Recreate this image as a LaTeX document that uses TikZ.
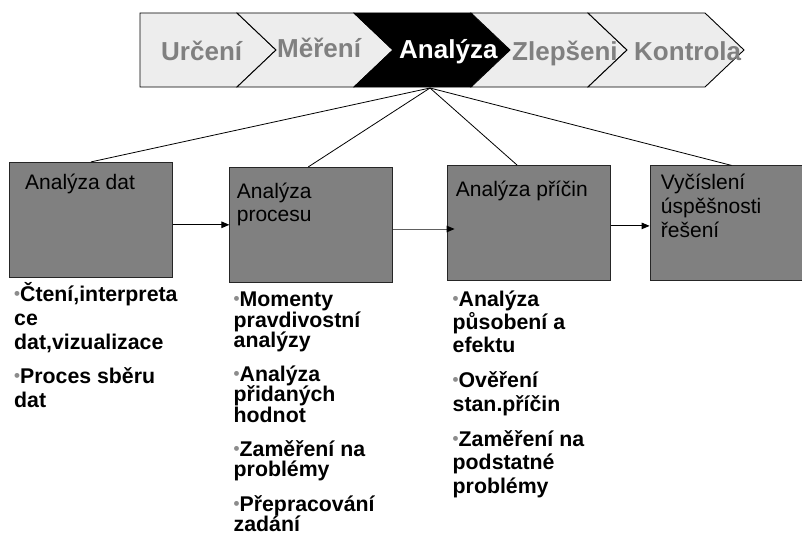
\documentclass[tikz,border=0pt]{standalone}
\usepackage{fontspec}
\setmainfont{Liberation Sans}
\usetikzlibrary{arrows.meta,calc}

\definecolor{chevfill}{HTML}{EDEDED}
\definecolor{chevtext}{HTML}{808080}
\definecolor{boxfill}{HTML}{808080}
\definecolor{bulletgray}{HTML}{8C8C8C}
\definecolor{linkgray}{HTML}{606060}

% small grey bullet in front of each item
\newcommand{\itembullet}{{\color{bulletgray}\fontsize{17}{17}\selectfont\raisebox{2pt}{\textbullet}}}
% left-aligned lines with a fixed baseline distance; baseline = first line
\newcommand{\linestack}[2]{\vtop{\baselineskip=#1\relax\lineskiplimit=-\maxdimen\lineskip=0pt\halign{##\hfil\cr#2\crcr}}}

\tikzset{
  chev/.style={draw=black, line width=0.9pt, fill=chevfill, line join=miter},
  chevactive/.style={draw=black, line width=0.9pt, fill=black},
  chevlabel/.style={anchor=base west, inner sep=0pt, text=chevtext,
    font=\bfseries\fontsize{26}{26}\selectfont},
  stagebox/.style={draw=black!85, line width=0.8pt, fill=boxfill,
    minimum width=163pt, minimum height=115pt, inner sep=0pt},
  boxlabel/.style={anchor=base west, inner sep=0pt, text=black,
    font=\fontsize{21}{23.5}\selectfont},
  itemlist/.style={anchor=base west, inner sep=0pt, text=black,
    font=\bfseries\fontsize{21.3}{23.5}\selectfont},
  link/.style={draw=black, line width=0.8pt},
  flow/.style={draw=black, line width=0.9pt, -{Triangle[length=8pt,width=6.5pt,color=black]}},
}

\begin{document}
\begin{tikzpicture}[x=1pt, y=-1pt]
\useasboundingbox (0,0) rectangle (802,535);
\clip (0,0) rectangle (802,535);
\fill[white] (0,0) rectangle (802,535);

% ---- process chevrons ----
\draw[chev] (140,13) -- (237,13) -- (276,50) -- (237,87) -- (140,87) -- cycle;
\draw[chev] (237,13) -- (354,13) -- (393,50) -- (354,87) -- (237,87) -- (276,50) -- cycle;
\draw[chevactive] (354,13) -- (471,13) -- (510,50) -- (471,87) -- (354,87) -- (393,50) -- cycle;
\draw[chev] (471,13) -- (588,13) -- (627,50) -- (588,87) -- (471,87) -- (510,50) -- cycle;
\draw[chev] (588,13) -- (705,13) -- (744,50) -- (705,87) -- (588,87) -- (627,50) -- cycle;

\node[chevlabel] (c1) at (161,60) {Určení};
\node[chevlabel] (c2) at (277,57) {Měření};
\node[chevlabel, text=white] (c3) at (399,59) {Analýza};
\node[chevlabel] (c4) at (512,60) {Zlepšeni};
\node[chevlabel] (c5) at (634,60) {Kontrola};

\coordinate (hub) at (430,88);

% ---- stage boxes ----
\node[stagebox] (b1) at (91,219.8) {};
\node[stagebox] (b2) at (311.3,224.8) {};
\node[stagebox] (b3) at (529,222.9) {};
\node[stagebox] (b4) at (731.5,223.3) {};

\node[boxlabel] (t1) at (25,189.3) {Analýza dat};
\node[boxlabel] (t2) at (236.7,198.3) {\linestack{23.5pt}{Analýza\cr procesu}};
\node[boxlabel] (t3) at (455.7,196.7) {Analýza příčin};
\node[boxlabel] (t4) at (660.7,189.3) {\linestack{24pt}{Vyčíslení\cr úspěšnosti\cr řešení}};

% ---- links from the active phase ----
\draw[link] (hub) -- (b1.north);
\draw[link] (hub) -- ([xshift=-3pt]b2.north);
\draw[link] (hub) -- ([xshift=-12pt]b3.north);
\draw[link] (hub) -- (b4.north);

% ---- flow between stages ----
\draw[flow] (b1.east |- b2.west) -- (b2.west);
\coordinate (m23) at ($(b2.east)+(0,4.2)$);
\draw[flow, draw=linkgray] (m23) -- ($(m23 -| b3.west)+(7.5,0)$);
\coordinate (m34) at ($(b3.east)+(0,3)$);
\draw[flow] (m34) -- (m34 -| b4.west);

% ---- item lists ----
\node[itemlist] (l1) at (14,301.5) {\linestack{24pt}{%
  \itembullet Čtení,interpreta\cr
  ce\cr
  dat,vizualizace\cr
  \noalign{\vskip 10pt}
  \itembullet Proces sběru\cr
  dat}};

\node[itemlist] (l2) at (233.5,306.7) {\linestack{20.3pt}{%
  \itembullet Momenty\cr
  pravdivostní\cr
  analýzy\cr
  \noalign{\vskip 14pt}
  \itembullet Analýza\cr
  přidaných\cr
  hodnot\cr
  \noalign{\vskip 14pt}
  \itembullet Zaměření na\cr
  problémy\cr
  \noalign{\vskip 14pt}
  \itembullet Přepracování\cr
  zadání}};

\node[itemlist] (l3) at (452.5,306) {\linestack{23.4pt}{%
  \itembullet Analýza\cr
  působení a\cr
  efektu\cr
  \noalign{\vskip 11.6pt}
  \itembullet Ověření\cr
  stan.příčin\cr
  \noalign{\vskip 11.6pt}
  \itembullet Zaměření na\cr
  podstatné\cr
  problémy}};
\end{tikzpicture}
\end{document}
